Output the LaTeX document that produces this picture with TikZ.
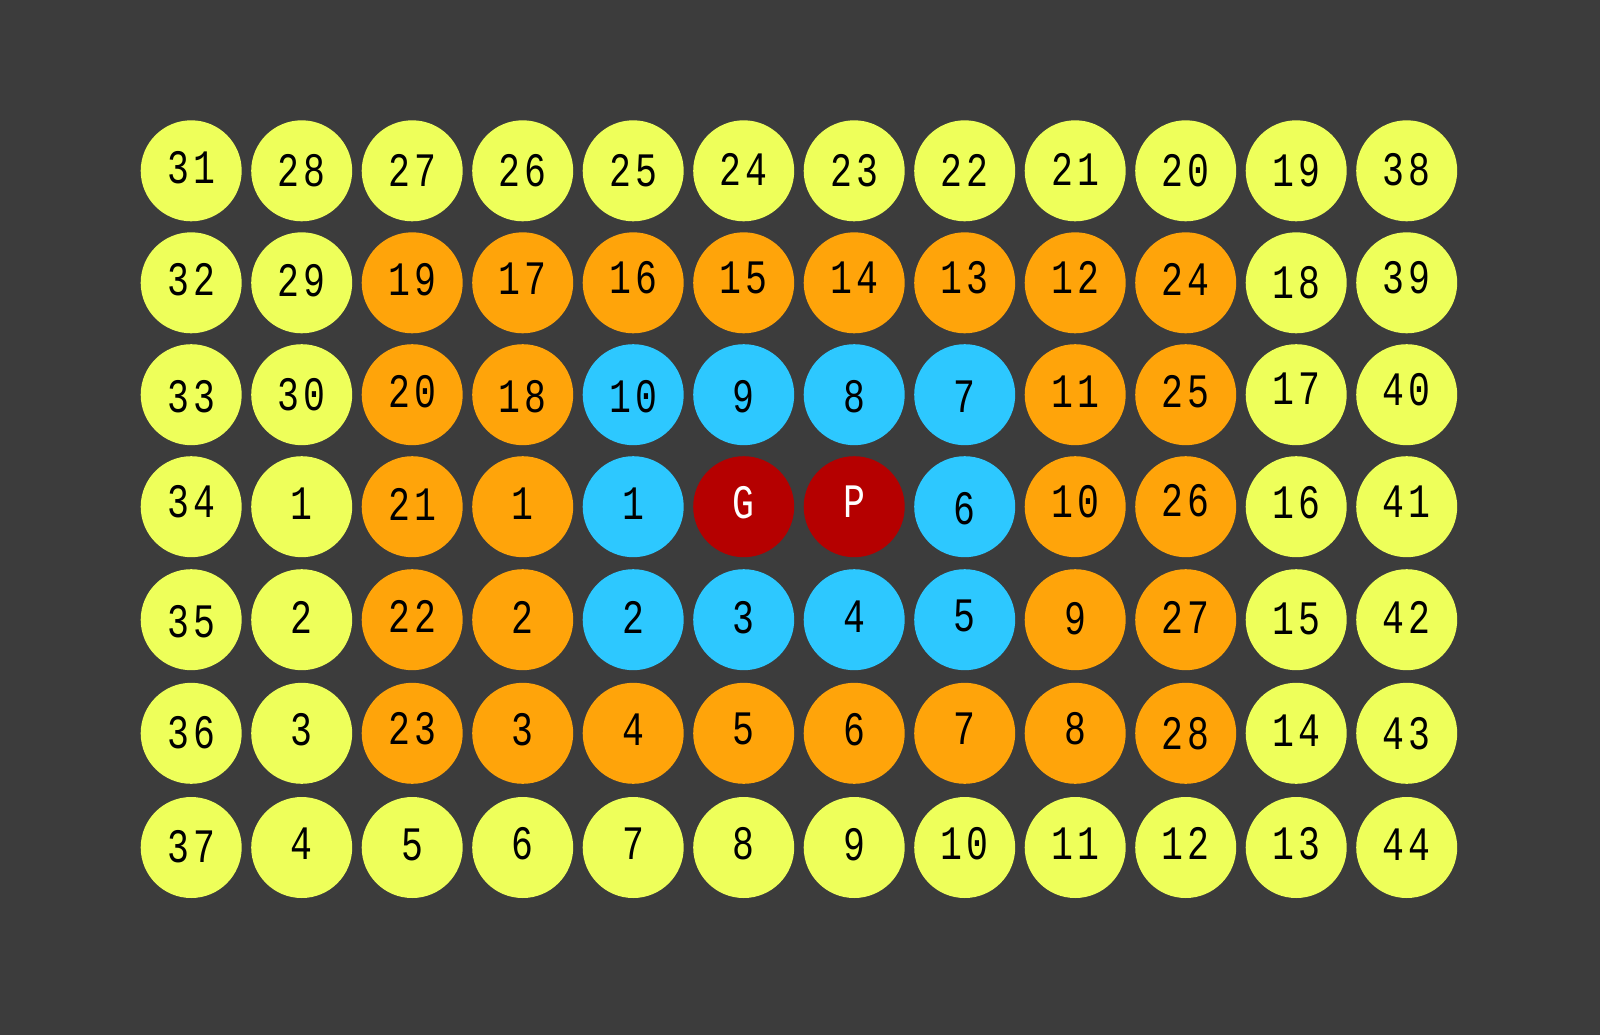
\documentclass[tikz,border=0pt]{standalone}
\usepackage{fontspec}
\newfontfamily\cellfont[FakeStretch=0.76,LetterSpace=8]{Liberation Mono}
\definecolor{bg}{HTML}{3C3C3C}
\definecolor{cY}{HTML}{EEFF5A}
\definecolor{cO}{HTML}{FFA40A}
\definecolor{cB}{HTML}{2DC8FF}
\definecolor{cR}{HTML}{B50000}
\tikzset{
  cell/.style={circle, minimum size=101pt, inner sep=0pt},
  fY/.style={cell, fill=cY},
  fO/.style={cell, fill=cO},
  fB/.style={cell, fill=cB},
  fR/.style={cell, fill=cR},
  lab/.style={inner sep=0pt, font=\cellfont\fontsize{48}{48}\selectfont, text=black},
  tY/.style={lab}, tO/.style={lab}, tB/.style={lab},
  tR/.style={lab, text=white},
}
\newcommand\cellrow[3]{%
  \foreach \lab/\col/\dy [count=\c from 0] in {#3} {
    \node[f\col] (n-#1-\c) at ({191.2+110.5*\c},#2) {};
    \node[t\col] (t-#1-\c) at ([yshift={-\dy*1pt}]n-#1-\c.center) {\lab};
  }%
}
\begin{document}
\begin{tikzpicture}[x=1pt,y=-1pt]
\fill[bg] (0,0) rectangle (1600,1035);
\useasboundingbox (0,0) rectangle (1600,1035);
\cellrow{0}{170.8}{31/Y/-2.8,28/Y/0,27/Y/0,26/Y/0,25/Y/0,24/Y/-1.5,23/Y/0,22/Y/0,21/Y/-1.5,20/Y/-0.6,19/Y/-0.6,38/Y/-1.5}
\cellrow{1}{282.8}{32/Y/-2.8,29/Y/-2,19/O/-3.6,17/O/-4.1,16/O/-5,15/O/-5.3,14/O/-5.3,13/O/-5,12/O/-5,24/O/-3.6,18/Y/0,39/Y/-5.3}
\cellrow{2}{394.7}{33/Y/1.5,30/Y/0,20/O/-3.5,18/O/1.5,10/B/1.5,9/B/1.5,8/B/1.5,7/B/1.5,11/O/-3.5,25/O/-3.5,17/Y/-6.5,40/Y/-5.2}
\cellrow{3}{506.7}{34/Y/-4.8,1/Y/-2.7,21/O/-2.7,1/O/-2.7,1/B/-2.7,G/R/-4.3,P/R/-4.7,6/B/1.5,10/O/-4.8,26/O/-6.5,16/Y/-4.3,41/Y/-5.2}
\cellrow{4}{619.7}{35/Y/1.5,2/Y/-2.7,22/O/-3.5,2/O/-2.7,2/B/-2.7,3/B/-1.8,4/B/-3.5,5/B/-3.5,9/O/-1,27/O/-1.8,15/Y/-1,42/Y/-1.8}
\cellrow{5}{733.3}{36/Y/-0.8,3/Y/-3.3,23/O/-4.2,3/O/-3.3,4/O/-3.7,5/O/-4.2,6/O/-3.7,7/O/-4.2,8/O/-4.2,28/O/0,14/Y/-2.5,43/Y/0}
\cellrow{6}{847.5}{37/Y/-1,4/Y/-3.5,5/Y/-2.7,6/Y/-3.5,7/Y/-3.5,8/Y/-3.5,9/Y/-2.7,10/Y/-4.3,11/Y/-4.3,12/Y/-4.3,13/Y/-4.3,44/Y/-2.7}
\end{tikzpicture}
\end{document}
